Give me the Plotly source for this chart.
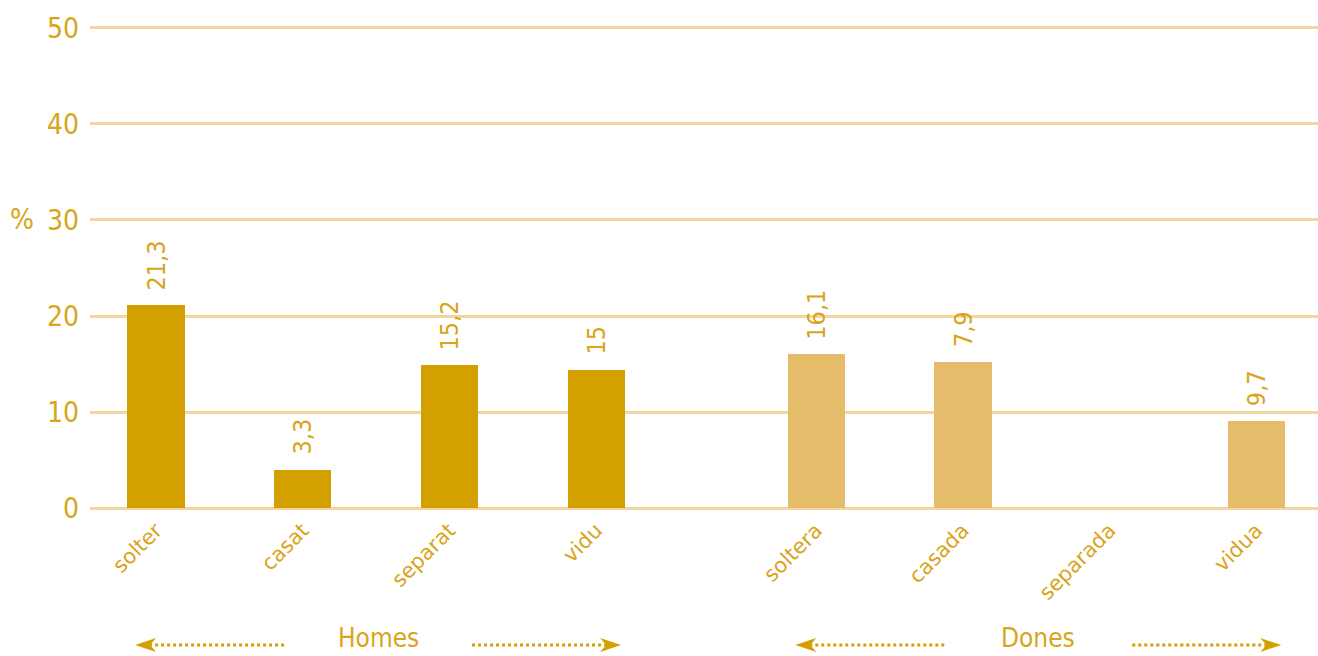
import plotly.graph_objects as go

# ---- data ----
categories = ["solter", "casat", "separat", "vidu", "soltera", "casada", "separada", "vidua"]
groups = ["Homes", "Homes", "Homes", "Homes", "Dones", "Dones", "Dones", "Dones"]
positions = [0, 1, 2, 3, 4.5, 5.5, 6.5, 7.5]
bar_values = [21.1, 4.0, 14.9, 14.4, 16.0, 15.2, 0, 9.1]
value_labels = ["21,3", "3,3", "15,2", "15", "16,1", "7,9", "", "9,7"]
group_names = ["Homes", "Dones"]
y_ticks = [0, 10, 20, 30, 40, 50]

# ---- style ----
TEXT = "#D9A41A"
DARK = "#D4A000"
LIGHT = "#E5BD6A"
GRID = "#F3D69F"
NARROW = "Liberation Sans Narrow, Arial Narrow, DejaVu Sans Condensed, sans-serif"

W, H = 1318, 656
ML, MR, MT, MB = 90, 0, 23, 143
XR = [-0.45, 7.92]
YR = [-0.5, 50.5]

colors = [DARK if g == "Homes" else LIGHT for g in groups]

fig = go.Figure()
fig.add_trace(go.Bar(
    x=positions, y=bar_values, width=0.39,
    marker=dict(color=colors, line=dict(width=0)),
    hoverinfo="skip",
))

# value labels above bars
for xv, yv, lab in zip(positions, bar_values, value_labels):
    if lab:
        fig.add_annotation(x=xv, y=yv, text=lab, showarrow=False, textangle=-90,
                           xref="x", yref="y", yanchor="bottom", xanchor="center",
                           yshift=13, font=dict(family=NARROW, size=25, color=TEXT))

# % label
fig.add_annotation(x=-(90 - 22) / (W - ML - MR), y=30, xref="paper", yref="y", text="%",
                   showarrow=False, xanchor="center", yanchor="middle",
                   font=dict(family=NARROW, size=28, color=TEXT))

# group labels and arrows
pw = W - ML - MR
ph = H - MT - MB

def px_to_paper_x(px):
    return (px - ML) / pw

def px_to_paper_y(py):
    return (H - MB - py) / ph

def data_to_px(xv):
    return ML + (xv - XR[0]) / (XR[1] - XR[0]) * pw

arrow_y = 645
for gname in group_names:
    gpos = [p for p, g in zip(positions, groups) if g == gname]
    cx = data_to_px(sum(gpos) / len(gpos)) + 2
    fig.add_annotation(x=px_to_paper_x(cx), y=px_to_paper_y(arrow_y - 7), xref="paper", yref="paper",
                       text=gname, showarrow=False, xanchor="center", yanchor="middle",
                       font=dict(family=NARROW, size=26, color=TEXT))
    for sgn in (-1, 1):
        tip = cx + sgn * 243
        inner = cx + sgn * 94
        back = tip - sgn * 21
        notch = tip - sgn * 15
        fig.add_shape(type="line", xref="paper", yref="paper",
                      x0=px_to_paper_x(inner), x1=px_to_paper_x(notch),
                      y0=px_to_paper_y(arrow_y), y1=px_to_paper_y(arrow_y),
                      line=dict(color=DARK, width=3, dash="3px,3px"))
        path = "M {} {} L {} {} L {} {} L {} {} Z".format(
            px_to_paper_x(tip), px_to_paper_y(arrow_y),
            px_to_paper_x(back), px_to_paper_y(arrow_y - 7),
            px_to_paper_x(notch), px_to_paper_y(arrow_y),
            px_to_paper_x(back), px_to_paper_y(arrow_y + 7))
        fig.add_shape(type="path", xref="paper", yref="paper", path=path,
                      fillcolor=DARK, line=dict(width=0))

fig.update_layout(
    width=W, height=H,
    margin=dict(l=ML, r=MR, t=MT, b=MB, pad=0),
    paper_bgcolor="white", plot_bgcolor="white",
    showlegend=False,
    bargap=0,
    xaxis=dict(range=XR, tickvals=positions, ticktext=categories, tickangle=-45,
               showgrid=False, zeroline=False, showline=False, ticks="",
               tickfont=dict(family="DejaVu Sans, Verdana, sans-serif", size=21, color=TEXT),
               ticklabelstandoff=0, fixedrange=True),
    yaxis=dict(range=YR, tickvals=y_ticks, ticktext=[str(v) for v in y_ticks],
               showgrid=True, gridcolor=GRID, gridwidth=2.5, zeroline=False, showline=False,
               ticks="", tickfont=dict(family=NARROW, size=28, color=TEXT),
               ticklabelstandoff=10, fixedrange=True),
)

fig.write_html("out.html", config={"displayModeBar": False},
               post_script="document.body.style.margin='0';document.body.style.overflow='hidden';")
